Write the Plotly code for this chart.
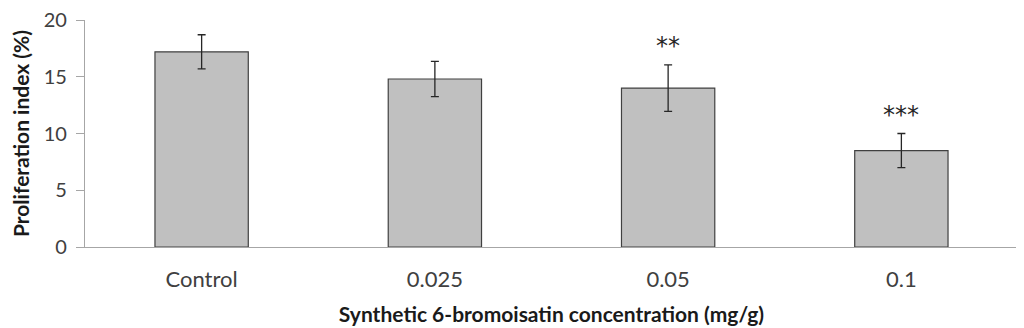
import plotly.graph_objects as go

categories = ["Control", "0.025", "0.05", "0.1"]
means = [17.2, 14.8, 14.0, 8.5]
errors = [1.5, 1.55, 2.05, 1.5]
significance = ["", "", "**", "***"]

fig = go.Figure()
fig.add_trace(go.Bar(
    x=categories, y=means, width=0.4,
    marker=dict(color="#c0c0c0", line=dict(color="#404040", width=1.2)),
    error_y=dict(type="data", array=errors, visible=True, color="#262626", thickness=1.3, width=4),
    showlegend=False,
))

for i, (m, e, s) in enumerate(zip(means, errors, significance)):
    if s:
        fig.add_annotation(x=i, y=m + e, text=s, showarrow=False, yshift=19,
                           font=dict(family="DejaVu Sans", size=24, color="#262626"))

fig.update_layout(
    width=1016, height=320,
    margin=dict(l=77, r=6, t=12, b=81),
    plot_bgcolor="white", paper_bgcolor="white",
    font=dict(family="Lato", size=22, color="#404040"),
    bargap=0.6,
)
fig.update_xaxes(
    type="category", automargin=False,
    showline=True, linecolor="#a6a6a6", linewidth=1.3,
    ticks="", showgrid=False, ticklabelstandoff=12,
    title=dict(text="<b>Synthetic 6-bromoisatin concentration (mg/g)</b>",
               font=dict(family="Lato", size=21, color="#1a1a1a"), standoff=16),
)
fig.update_yaxes(
    range=[0, 20], dtick=5, automargin=False,
    showline=True, linecolor="#a6a6a6", linewidth=1.3,
    ticks="outside", ticklen=8, tickcolor="#a6a6a6", tickwidth=1.3,
    showgrid=False, zeroline=False, ticklabelstandoff=5,
    ticklabeloverflow="allow", tickfont=dict(size=20),
    title=dict(text="<b>Proliferation index (%)</b>",
               font=dict(family="Lato", size=21, color="#1a1a1a"), standoff=16),
)

fig.write_html("out.html")
